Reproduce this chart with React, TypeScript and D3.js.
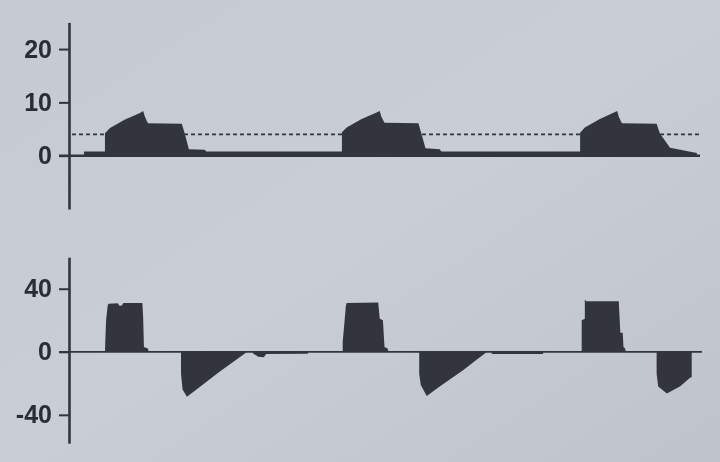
import React, { useEffect, useRef } from "react";
import * as d3 from "d3";

// pressure trace [time s, cmH2O]
const pressure: [number, number][] = [
  [0.19, 0], [0.19, 0.8], [0.456, 0.8], [0.456, 4.2], [0.52, 5.2], [0.71, 6.8], [0.9, 8.0], [0.94, 8.4], [0.96, 7.4], [1.0, 6.1], [1.43, 6.0], [1.47, 4.0], [1.52, 1.2], [1.72, 1.1], [1.74, 0.8],
  [3.46, 0.8], [3.46, 4.4], [3.52, 5.3], [3.71, 6.9], [3.9, 8.1], [3.94, 8.4], [3.96, 7.3], [4.0, 6.2], [4.43, 6.1], [4.47, 4.0], [4.52, 1.4], [4.7, 1.2], [4.72, 0.8],
  [6.48, 0.8], [6.48, 4.3], [6.54, 5.3], [6.73, 6.9], [6.91, 8.1], [6.95, 8.4], [6.97, 7.3], [7.01, 6.1], [7.45, 6.0], [7.49, 4.2], [7.62, 1.5], [7.96, 0.5], [7.96, 0],
];

// flow trace [time s, L/min]
const flow: [number, number][] = [
  [0.456, 0], [0.46, 6], [0.47, 20], [0.49, 29], [0.5, 30.5], [0.62, 30.8], [0.64, 29.2], [0.67, 29.4], [0.69, 31], [0.93, 31], [0.94, 22], [0.95, 3], [1.0, 2], [1.01, 0],
  [1.42, 0], [1.42, -14], [1.44, -24], [1.495, -28.6], [1.6, -24.5], [1.9, -13], [2.26, 0],
  [2.33, 0], [2.33, -1], [2.4, -3.2], [2.47, -3.4], [2.5, -1.4], [3.03, -1.2], [3.03, 0],
  [3.47, 0], [3.47, 6], [3.51, 29], [3.52, 31], [3.92, 31.3], [3.94, 21], [3.98, 20], [4.0, 3], [4.04, 2], [4.05, 0],
  [4.44, 0], [4.44, -14], [4.46, -21], [4.535, -28.1], [4.7, -22], [5.0, -11.5], [5.3, 0],
  [5.36, 0], [5.36, -1.4], [6.01, -1.4], [6.01, 0],
  [6.5, 0], [6.5, 20], [6.54, 21], [6.54, 33], [6.56, 32], [6.97, 32], [6.99, 12], [7.02, 12], [7.03, 3], [7.05, 2], [7.06, 0],
  [7.45, 0], [7.45, -14], [7.47, -22], [7.58, -26.4], [7.75, -21.8], [7.87, -16.7], [7.895, -16], [7.895, 0],
];

const pressureTicks = [0, 10, 20];
const flowTicks = [-40, 0, 40];
const peep = 4;

const W = 720,
  H = 462;
const ink = "#33363e";

const App = () => {
  const ref = useRef<SVGSVGElement>(null);

  useEffect(() => {
    const svg = d3.select(ref.current);
    svg.selectAll("*").remove();

    const x = d3.scaleLinear().domain([0, 8]).range([69, 700]);
    const yP = d3.scaleLinear().domain([-10, 25]).range([209, 22.4]);
    const yF = d3.scaleLinear().domain([-58, 60]).range([443.2, 257.2]);

    const defs = svg.append("defs");
    const bg = defs
      .append("linearGradient")
      .attr("id", "bg")
      .attr("x1", "0%")
      .attr("y1", "0%")
      .attr("x2", "100%")
      .attr("y2", "100%");
    bg.append("stop").attr("offset", "0%").attr("stop-color", "#c6cad2");
    bg.append("stop").attr("offset", "50%").attr("stop-color", "#c9cdd5");
    bg.append("stop").attr("offset", "100%").attr("stop-color", "#bfc3cb");
    // photo is a bit soft
    defs
      .append("filter")
      .attr("id", "soft")
      .append("feGaussianBlur")
      .attr("stdDeviation", 0.6);

    svg.append("rect").attr("width", W).attr("height", H).attr("fill", "url(#bg)");

    const g = svg.append("g").attr("filter", "url(#soft)");

    // pressure panel
    g.append("path")
      .datum(pressure)
      .attr("fill", ink)
      .attr(
        "d",
        d3
          .area<[number, number]>()
          .x((d) => x(d[0]))
          .y0(yP(0))
          .y1((d) => yP(d[1]))
      );

    g.append("line")
      .attr("x1", 59)
      .attr("x2", 700)
      .attr("y1", yP(0))
      .attr("y2", yP(0))
      .attr("stroke", ink)
      .attr("stroke-width", 2.4);

    g.append("line")
      .attr("x1", 72)
      .attr("x2", 700)
      .attr("y1", yP(peep))
      .attr("y2", yP(peep))
      .attr("stroke", ink)
      .attr("stroke-width", 1.6)
      .attr("stroke-dasharray", "4,3");

    // flow panel
    g.append("path")
      .datum(flow)
      .attr("fill", ink)
      .attr(
        "d",
        d3
          .area<[number, number]>()
          .x((d) => x(d[0]))
          .y0(yF(0))
          .y1((d) => yF(d[1]))
      );

    g.append("line")
      .attr("x1", 59)
      .attr("x2", 702)
      .attr("y1", yF(0))
      .attr("y2", yF(0))
      .attr("stroke", ink)
      .attr("stroke-width", 1.8);

    const drawAxis = (scale: d3.ScaleLinear<number, number>, ticks: number[]) => {
      const ax = g
        .append("g")
        .attr("transform", "translate(69,0)")
        .call(
          d3
            .axisLeft(scale)
            .tickValues(ticks)
            .tickSize(10)
            .tickSizeOuter(0)
            .tickPadding(7)
            .tickFormat((d) => String(d))
        );
      ax.select(".domain").attr("stroke", ink).attr("stroke-width", 2.6);
      ax.selectAll(".tick line").attr("stroke", ink).attr("stroke-width", 2);
      ax.selectAll(".tick text")
        .attr("fill", "#2a2d33")
        .attr("font-size", 25)
        .attr("font-weight", "bold")
        .attr("font-family", "'Liberation Sans', Arial, sans-serif");
    };
    drawAxis(yP, pressureTicks);
    drawAxis(yF, flowTicks);
  }, []);

  return (
    <svg
      ref={ref}
      width={W}
      height={H}
      style={{ position: "absolute", left: 0, top: 0, display: "block" }}
    />
  );
};

export default App;
